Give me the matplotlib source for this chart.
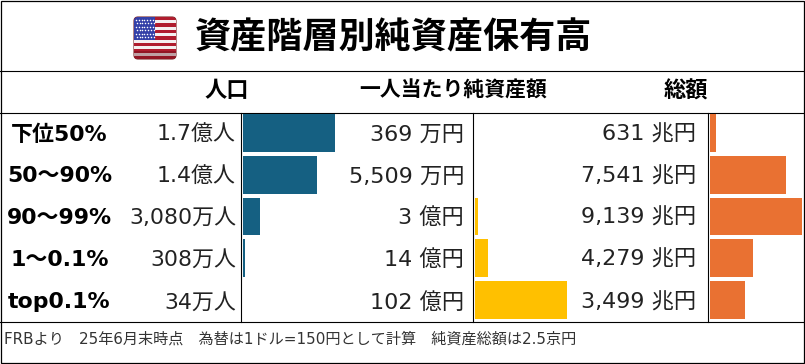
import matplotlib
matplotlib.use('Agg')
import matplotlib.pyplot as plt
from matplotlib.patches import Rectangle, FancyBboxPatch

plt.rcParams['font.family'] = ['DejaVu Sans', 'Noto Sans CJK JP']

title = '資産階層別純資産保有高'
headers = ['人口', '一人当たり純資産額', '総額']
groups = ['下位50%', '50～90%', '90～99%', '1～0.1%', 'top0.1%']

# population in 万人, per person in 万円, total in 兆円
population = [17000, 13700, 3080, 308, 34]
per_person = [369, 5509, 30000, 140000, 1020000]
total = [631, 7541, 9139, 4279, 3499]

population_labels = ['1.7億人', '1.4億人', '3,080万人', '308万人', '34万人']
per_person_labels = ['369 万円', '5,509 万円', '3 億円', '14 億円', '102 億円']
total_labels = ['631 兆円', '7,541 兆円', '9,139 兆円', '4,279 兆円', '3,499 兆円']

footer = 'FRBより　25年6月末時点　為替は1ドル=150円として計算　純資産総額は2.5京円'

W, H = 805, 364
fig = plt.figure(figsize=(W / 100, H / 100), dpi=100)

# whole picture in pixels, y going down
ax = fig.add_axes([0, 0, 1, 1])
ax.set_xlim(0, W)
ax.set_ylim(H, 0)
ax.axis('off')

colors = {243: '#156082', 475: '#FFC000', 710: '#E97132'}

def bar_axes(x0, x1, values):
    a = fig.add_axes([x0 / W, 1 - 320.5 / H, (x1 - x0) / W, (320.5 - 112.5) / H])
    a.barh(range(len(values)), values, height=0.91, color=colors[x0])
    a.set_xlim(0, max(values))
    a.set_ylim(4.5, -0.5)
    a.axis('off')

bar_axes(243, 335, population)
bar_axes(475, 567, per_person)
bar_axes(710, 802, total)

# frame and rules
ax.add_patch(Rectangle((1, 1), W - 2, H - 2, fill=False, ec='black', lw=0.9))
for y in [71, 113, 322]:
    ax.plot([0, W], [y, y], color='black', lw=0.8)
for x in [241, 473, 708]:
    ax.plot([x, x], [113, 322], color='black', lw=0.8)

# flag
fx, fy, fw, fh = 134, 17, 42, 42
clip = FancyBboxPatch((fx + 3, fy + 3), fw - 6, fh - 6, boxstyle='round,pad=3,rounding_size=4',
                      fc='white', ec='#7a2a2a', lw=0.8, transform=ax.transData)
ax.add_patch(clip)
for i in range(13):
    color = '#B01C2E' if i % 2 == 0 else '#F4F0F0'
    r = Rectangle((fx, fy + i * fh / 13), fw, fh / 13 + 0.2, fc=color, ec='none')
    ax.add_patch(r)
    r.set_clip_path(clip)
canton = Rectangle((fx, fy), fw * 0.5, fh * 7 / 13, fc='#3440A8', ec='none')
ax.add_patch(canton)
canton.set_clip_path(clip)
for row in range(6):
    for col in range(7):
        ax.plot(fx + 2 + col * 2.8 + (row % 2) * 0.7, fy + 2.5 + row * 3.5, 'o',
                ms=1.1, color='white', mew=0)
shade = Rectangle((fx, fy + fh - 8), fw, 8, fc='#5a0a14', ec='none', alpha=0.35)
ax.add_patch(shade)
shade.set_clip_path(clip)

# texts
ax.text(393.5, 38, title, fontsize=26, fontweight='bold', ha='center', va='center')
ax.text(226.5, 91, headers[0], fontsize=16, fontweight='bold', ha='center', va='center')
ax.text(453, 91, headers[1], fontsize=15, fontweight='bold', ha='center', va='center')
ax.text(686, 91, headers[2], fontsize=16, fontweight='bold', ha='center', va='center')

row_y = [134.5, 176.5, 217.5, 259.5, 302.5]
for i, y in enumerate(row_y):
    ax.text(59.5, y, groups[i], fontsize=15.8, fontweight='bold', ha='center', va='center')
    ax.text(236, y, population_labels[i], fontsize=15.8, ha='right', va='center', color='#222222')
    ax.text(464, y, per_person_labels[i], fontsize=16, ha='right', va='center', color='#222222')
    ax.text(696, y, total_labels[i], fontsize=16, ha='right', va='center', color='#222222')

ax.text(4, 339, footer, fontsize=10.9, ha='left', va='center', color='#333333')

fig.savefig('out.png', dpi=100, facecolor='white')
